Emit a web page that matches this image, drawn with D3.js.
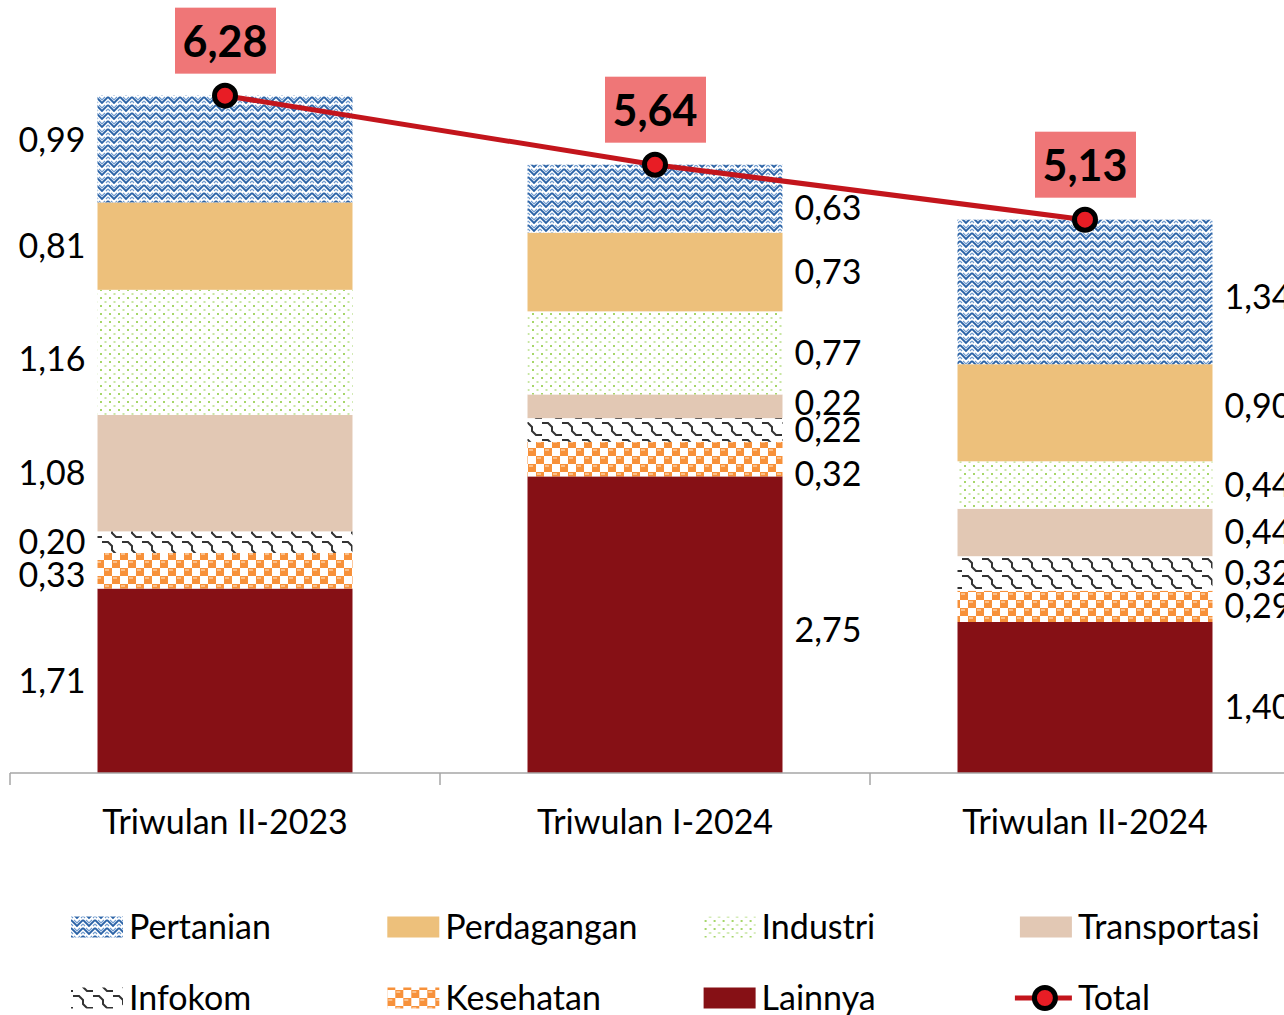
<!DOCTYPE html>
<html>
<head>
	<meta charset="utf-8">
	<title>Sumber pertumbuhan</title>
	<script src="https://d3js.org/d3.v7.min.js"></script>
	<style>
		body {
			margin: 0;
			background-color: #fff;
		}
		svg {
			display: block;
			font-family: 'Lato', 'Open Sans', sans-serif;
		}
		.axis-line {
			stroke: #a6a6a6;
			stroke-width: 1.5;
		}
		.value-label, .cat-label, .legend-label {
			fill: #000;
			font-size: 34px;
		}
		.total-label {
			fill: #000;
			font-size: 43px;
			font-weight: bold;
		}
	</style>
</head>
<body>
	<div id="chart"></div>
<script>

	// Data.
	const categories = ['Triwulan II-2023', 'Triwulan I-2024', 'Triwulan II-2024'];
	const lainnya = [1.71, 2.75, 1.40];
	const kesehatan = [0.33, 0.32, 0.29];
	const infokom = [0.20, 0.22, 0.32];
	const transportasi = [1.08, 0.22, 0.44];
	const industri = [1.16, 0.77, 0.44];
	const perdagangan = [0.81, 0.73, 0.90];
	const pertanian = [0.99, 0.63, 1.34];
	const totals = [6.28, 5.64, 5.13];

	// Stack order, from the bottom up.
	const series = [
		{name: 'Lainnya', values: lainnya, fill: '#861015'},
		{name: 'Kesehatan', values: kesehatan, fill: 'url(#pat-kesehatan)'},
		{name: 'Infokom', values: infokom, fill: 'url(#pat-infokom)'},
		{name: 'Transportasi', values: transportasi, fill: '#e2c8b4'},
		{name: 'Industri', values: industri, fill: 'url(#pat-industri)'},
		{name: 'Perdagangan', values: perdagangan, fill: '#edc07b'},
		{name: 'Pertanian', values: pertanian, fill: 'url(#pat-pertanian)'},
	];

	const legendOrder = ['Pertanian', 'Perdagangan', 'Industri', 'Transportasi',
		'Infokom', 'Kesehatan', 'Lainnya', 'Total'];

	// Small vertical nudges (px) where the labels were pushed apart.
	const labelNudge = {
		'0-Pertanian': -9, '0-Industri': 7, '0-Kesehatan': 4,
		'1-Pertanian': 9, '1-Kesehatan': 15, '1-Lainnya': 5, '1-Transportasi': -3,
		'2-Pertanian': 5, '2-Perdagangan': -7, '2-Lainnya': 10,
	};

	const width = 1284;
	const height = 1015;
	const baseline = 773;

	const svg = d3.select('#chart')
		.append('svg')
		.attr('width', width)
		.attr('height', height);

	// Fill patterns.
	const defs = svg.append('defs');

	const pPert = defs.append('pattern')
		.attr('id', 'pat-pertanian')
		.attr('patternUnits', 'userSpaceOnUse')
		.attr('width', 12).attr('height', 8);
	pPert.append('rect').attr('width', 12).attr('height', 8).attr('fill', '#fff');
	pPert.append('path')
		.attr('d', 'M0,1 L6,7 L12,1')
		.attr('fill', 'none').attr('stroke', '#2a62a6').attr('stroke-width', 1.8);
	pPert.append('path')
		.attr('d', 'M0,5 L2,7 M10,7 L12,5 M3,1 L6,4 L9,1')
		.attr('fill', 'none').attr('stroke', '#6f9bcf').attr('stroke-width', 1.2);

	const pInd = defs.append('pattern')
		.attr('id', 'pat-industri')
		.attr('patternUnits', 'userSpaceOnUse')
		.attr('width', 9).attr('height', 8);
	pInd.append('rect').attr('width', 9).attr('height', 8).attr('fill', '#fff');
	pInd.append('rect').attr('x', 1).attr('y', 1).attr('width', 2).attr('height', 2).attr('fill', '#a6d66a');
	pInd.append('rect').attr('x', 5.5).attr('y', 5).attr('width', 2).attr('height', 2).attr('fill', '#c7e6a1');

	const pInfo = defs.append('pattern')
		.attr('id', 'pat-infokom')
		.attr('patternUnits', 'userSpaceOnUse')
		.attr('width', 20).attr('height', 17)
		.attr('patternTransform', 'translate(0,557)');
	pInfo.append('rect').attr('width', 20).attr('height', 17).attr('fill', '#fff');
	pInfo.append('path')
		.attr('d', 'M2,2 L8,2 L12,6 L12,10 L16,14 L20,14 M0,14 L2,14')
		.attr('fill', 'none').attr('stroke', '#333').attr('stroke-width', 2);

	const pKes = defs.append('pattern')
		.attr('id', 'pat-kesehatan')
		.attr('patternUnits', 'userSpaceOnUse')
		.attr('width', 16).attr('height', 16);
	pKes.append('rect').attr('width', 16).attr('height', 16).attr('fill', '#f7913a');
	pKes.append('rect').attr('x', 8).attr('y', 0).attr('width', 8).attr('height', 8).attr('fill', '#fff');
	pKes.append('rect').attr('x', 0).attr('y', 8).attr('width', 8).attr('height', 8).attr('fill', '#fff');
	pKes.append('rect').attr('x', 1).attr('y', 1).attr('width', 4).attr('height', 2).attr('fill', '#fbc08a');
	pKes.append('rect').attr('x', 9).attr('y', 9).attr('width', 4).attr('height', 2).attr('fill', '#fbc08a');

	// Scales.
	const x = d3.scaleBand()
		.domain(categories)
		.range([10, 1300])
		.paddingInner(0.407)
		.paddingOuter(0.2035);

	const y = d3.scaleLinear()
		.domain([0, 7])
		.range([baseline, 18]);

	const fmt = v => d3.format('.2f')(v).replace('.', ',');

	// Stacked bars.
	const table = categories.map((c, i) => {
		const row = {category: c};
		series.forEach(s => { row[s.name] = s.values[i]; });
		return row;
	});
	const stacked = d3.stack().keys(series.map(s => s.name))(table);

	const layers = svg.append('g').attr('class', 'bars')
		.selectAll('g')
		.data(stacked)
		.join('g')
			.attr('fill', (d, i) => series[i].fill);

	layers.selectAll('rect')
		.data(d => d)
		.join('rect')
			.attr('x', d => x(d.data.category))
			.attr('y', d => y(d[1]))
			.attr('width', x.bandwidth())
			.attr('height', d => y(d[0]) - y(d[1]));

	// Value labels: left of first bar, right of the others.
	layers.selectAll('text')
		.data(d => d.map(v => Object.assign({key: d.key}, v)))
		.join('text')
			.attr('class', 'value-label')
			.attr('x', (d, i) => i === 0 ? x(d.data.category) - 12 : x(d.data.category) + x.bandwidth() + 12)
			.attr('y', (d, i) => (y(d[0]) + y(d[1])) / 2 + (labelNudge[i + '-' + d.key] || 0))
			.attr('dy', '0.35em')
			.attr('text-anchor', (d, i) => i === 0 ? 'end' : 'start')
			.text(d => fmt(d[1] - d[0]));

	// Category axis.
	const axis = svg.append('g').attr('class', 'x-axis');
	axis.append('line')
		.attr('class', 'axis-line')
		.attr('x1', 10).attr('x2', width)
		.attr('y1', baseline).attr('y2', baseline);
	const bounds = categories.map(c => x(c) - x.step() * x.paddingOuter()).concat([1300]);
	axis.selectAll('.tick')
		.data(bounds)
		.join('line')
			.attr('class', 'axis-line tick')
			.attr('x1', d => d).attr('x2', d => d)
			.attr('y1', baseline).attr('y2', baseline + 12);
	axis.selectAll('.cat-label')
		.data(categories)
		.join('text')
			.attr('class', 'cat-label')
			.attr('x', d => x(d) + x.bandwidth() / 2)
			.attr('y', 822)
			.attr('dy', '0.35em')
			.attr('text-anchor', 'middle')
			.text(d => d);

	// Total line.
	const totalPts = categories.map((c, i) => ({category: c, value: totals[i]}));
	const line = d3.line()
		.x(d => x(d.category) + x.bandwidth() / 2)
		.y(d => y(d.value));

	svg.append('path')
		.datum(totalPts)
		.attr('d', line)
		.attr('fill', 'none')
		.attr('stroke', '#c3151c')
		.attr('stroke-width', 5);

	const totalG = svg.append('g').attr('class', 'totals')
		.selectAll('g')
		.data(totalPts)
		.join('g')
			.attr('transform', d => 'translate(' + (x(d.category) + x.bandwidth() / 2) + ',' + y(d.value) + ')');

	totalG.append('circle')
		.attr('r', 10.5)
		.attr('fill', '#e81d25')
		.attr('stroke', '#000')
		.attr('stroke-width', 5);

	totalG.append('rect')
		.attr('x', -50)
		.attr('y', -88)
		.attr('width', 101)
		.attr('height', 66)
		.attr('fill', '#ef7677');

	totalG.append('text')
		.attr('class', 'total-label')
		.attr('x', 0)
		.attr('y', -54)
		.attr('dy', '0.36em')
		.attr('text-anchor', 'middle')
		.text(d => fmt(d.value));

	// Legend.
	const legend = svg.append('g').attr('class', 'legend')
		.selectAll('g')
		.data(legendOrder)
		.join('g')
			.attr('transform', (d, i) => 'translate(' + (71 + (i % 4) * 316.3) + ',' + (i < 4 ? 927 : 998) + ')');

	legend.each(function (name) {
		const g = d3.select(this);
		if (name === 'Total') {
			g.append('line')
				.attr('x1', -5).attr('x2', 52)
				.attr('stroke', '#c3151c').attr('stroke-width', 5);
			g.append('circle')
				.attr('cx', 25)
				.attr('r', 10.5)
				.attr('fill', '#e81d25')
				.attr('stroke', '#000')
				.attr('stroke-width', 5);
		} else {
			const s = series.find(d => d.name === name);
			g.append('rect')
				.attr('y', -10.5)
				.attr('width', 52)
				.attr('height', 21)
				.attr('fill', s.fill);
		}
		g.append('text')
			.attr('class', 'legend-label')
			.attr('x', 58)
			.attr('dy', '0.35em')
			.text(name);
	});
</script>
</body>
</html>
